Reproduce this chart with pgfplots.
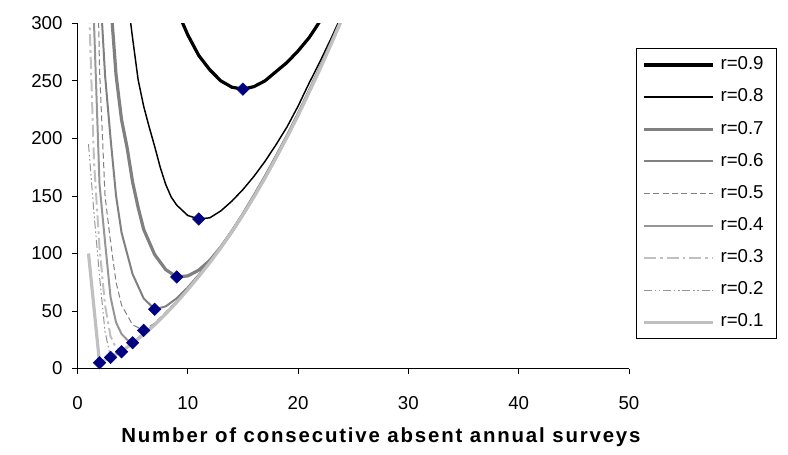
\documentclass[border=0pt]{standalone}
\usepackage{fontspec}
\setmainfont{Liberation Sans}
\usepackage{pgfplots}
\pgfplotsset{compat=1.18}
\definecolor{navy}{HTML}{000080}
\definecolor{g50}{HTML}{808080}
\definecolor{g40}{HTML}{969696}
\definecolor{g25}{HTML}{C0C0C0}
\begin{document}
\begin{tikzpicture}
\useasboundingbox (0,0) rectangle (591pt,340.5pt);
\begin{axis}[
  at={(58.1pt,64.1pt)}, anchor=south west,
  scale only axis, width=413.6pt, height=258.9pt,
  xmin=0, xmax=50, ymin=0, ymax=300,
  xtick={0,10,...,50}, ytick={0,50,...,300},
  axis lines=left, axis line style={-, line width=0.6pt},
  tick align=outside, major tick length=3.75pt,
  tick style={black, line width=0.6pt},
  /pgf/number format/assume math mode=true,
  ticklabel style={font=\fontsize{14}{16}\selectfont},
  yticklabel style={xshift=-4pt},
  xticklabel style={yshift=-14pt},
  xlabel={\addfontfeature{LetterSpace=9}Number of consecutive absent annual surveys},
  xlabel style={font=\fontsize{15.3}{17}\selectfont\bfseries, at={(rel axis cs:0.5503,0)}, anchor=center, yshift=-51.4pt},
  legend style={at={(rel axis cs:1.0127,0.9285)}, anchor=north west,
    draw=black, line width=0.6pt, inner xsep=4.5pt, inner ysep=5.5pt,
    font=\fontsize{14}{16}\selectfont, row sep=10.1pt,
    nodes={inner xsep=4.5pt, inner ysep=0pt, text width=33pt, text height=10.5pt, text depth=3.5pt}},
  legend cell align=left,
  legend image code/.code={\draw[#1] (0pt,0pt) -- (51.75pt,0pt);},
]
% r=0.9
\addplot[black, line width=2.4pt] coordinates {(8,340)(9,312)(10,290)(11,272)(12,259.6)(13,250)(14,244.5)(15,242.8)(16,245)(17,250)(18,258)(19,266)(20,276)(21,287.5)(22,302)(23,318)};
\addlegendentry{r=0.9}
% r=0.8
\addplot[black, line width=1.1pt] coordinates {(4,375)(4.5,325)(5,287)(5.5,251)(6,228)(6.5,210)(7,193)(7.5,175)(8,160)(8.5,149)(9,142)(10,133)(11,130)(12,131)(13,137)(14,145.5)(15,155.5)(16,167)(17,180)(18,194.5)(19,210)(20,228)(21,248)(22,267)(23,287)(24,308)};
\addlegendentry{r=0.8}
% r=0.7
\addplot[g50, line width=2.4pt] coordinates {(3,320)(3.5,255)(4,216)(4.5,192)(5,162)(5.5,140)(6,121)(7,99)(8,86)(9,79.6)(10,80.5)(11,85.5)(12,94)(13,105.5)(14,119)(15,134)(16,150)(17,166.5)(18,184)(19,202)(20,221)(21,241)(22,261.5)(23,283)(24,305)};
\addlegendentry{r=0.7}
% r=0.6
\addplot[g50, line width=1.5pt] coordinates {(2,340)(2.5,255)(3,200)(3.5,150)(4,118)(4.5,100)(5,82)(6,61)(7,51.5)(8,54)(9,61)(10,70.5)(11,81.5)(12,93.5)(13,106)(14,120)(15,134)(16,149.5)(17,166)(18,183.5)(19,201.5)(20,220.5)(21,240.5)(22,261)(23,282.5)(24,304.5)};
\addlegendentry{r=0.6}
% r=0.5
\addplot[g50, line width=0.75pt, dash pattern=on 4.5pt off 2.5pt] coordinates {(1.5,520)(2,260)(2.5,150)(3,110)(3.5,75)(4,55)(5,38)(6,33.2)(7,39.5)(8,49)(9,59)(10,69.5)(11,80.5)(12,92.5)(13,105.5)(14,119.5)(15,134)(16,149.5)(17,166)(18,183.5)(19,201.5)(20,220.5)(21,240.5)(22,261)(23,282.5)(24,304.5)};
\addlegendentry{r=0.5}
% r=0.4
\addplot[g40, line width=1.5pt] coordinates {(1,520)(1.5,300)(2,160)(2.5,110)(3,62)(3.5,40)(4,30)(4.5,25)(5,22.4)(6,30.5)(7,38.5)(8,48)(9,58)(10,69)(11,80.5)(12,92.5)(13,105.5)(14,119.5)(15,134)(16,149.5)(17,166)(18,183.5)(19,201.5)(20,220.5)(21,240.5)(22,261)(23,282.5)(24,304.5)};
\addlegendentry{r=0.4}
% r=0.3
\addplot[g25, line width=1.5pt, dash pattern=on 9pt off 3pt on 2pt off 3pt] coordinates {(1,330)(1.5,180)(2,105)(2.5,55)(3,28)(3.5,18)(4,14.6)(5,22.2)(6,29.8)(7,38.2)(8,47.7)(9,57.7)(10,68.7)(11,80.2)(12,92.2)(13,105.2)(14,119.2)(15,133.7)(16,149.2)(17,165.7)(18,183.2)(19,201.2)(20,220.2)(21,240.2)(22,260.7)(23,282.2)(24,304.2)};
\addlegendentry{r=0.3}
% r=0.2
\addplot[g40, line width=0.75pt, dash pattern=on 6pt off 2pt on 1.2pt off 2pt on 1.2pt off 2pt] coordinates {(1,195)(1.5,135)(2,80)(2.5,32)(3,9.7)(4,14.8)(5,22.1)(6,29.6)(7,38.1)(8,47.6)(9,57.6)(10,68.6)(11,80.1)(12,92.1)(13,105.1)(14,119.1)(15,133.6)(16,149.1)(17,165.6)(18,183.1)(19,201.1)(20,220.1)(21,240.1)(22,260.6)(23,282.1)(24,304.1)};
\addlegendentry{r=0.2}
% r=0.1
\addplot[g25, line width=2.4pt] coordinates {(1,100)(2,5.0)(3,10)(4,15)(5,22)(6,29.5)(7,38)(8,47.5)(9,57.5)(10,68.5)(11,80)(12,92)(13,105)(14,119)(15,133.5)(16,149)(17,165.5)(18,183)(19,201)(20,220)(21,240)(22,260.5)(23,282)(24,304)};
\addlegendentry{r=0.1}
% minima
\addplot[only marks, mark=square*, mark size=3.3pt, mark options={rotate=45, fill=navy, draw=navy}, forget plot] coordinates {(2,5.0)(3,9.7)(4,14.6)(5,22.4)(6,33.2)(7,51.5)(9,79.6)(11,130)(15,242.8)};
\end{axis}
\end{tikzpicture}
\end{document}
